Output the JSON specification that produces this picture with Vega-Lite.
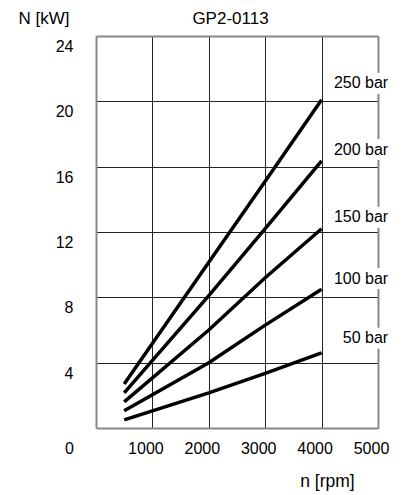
{
  "$schema": "https://vega.github.io/schema/vega-lite/v6.json",
  "width": 282,
  "height": 392,
  "autosize": {"type": "none"},
  "padding": {"left": 96, "top": 36, "right": 30, "bottom": 67},
  "background": "white",
  "config": {
    "font": "Liberation Sans",
    "view": {"stroke": null},
    "axis": {"titleFontSize": 17, "titleFontWeight": "normal", "titleColor": "#000", "titleFont": "Liberation Sans", "labelFontSize": 16, "labelColor": "#000", "labelFont": "Liberation Sans"}
  },
  "datasets": {
    "curves": [
      {"p": "250 bar", "n": 500, "N": 2.7},
      {"p": "250 bar", "n": 2000, "N": 10.15},
      {"p": "250 bar", "n": 3000, "N": 15.1},
      {"p": "250 bar", "n": 4000, "N": 20.1},
      {"p": "200 bar", "n": 500, "N": 2.15},
      {"p": "200 bar", "n": 2000, "N": 8.1},
      {"p": "200 bar", "n": 3000, "N": 12.2},
      {"p": "200 bar", "n": 4000, "N": 16.35},
      {"p": "150 bar", "n": 500, "N": 1.6},
      {"p": "150 bar", "n": 2000, "N": 6.0},
      {"p": "150 bar", "n": 3000, "N": 9.2},
      {"p": "150 bar", "n": 4000, "N": 12.2},
      {"p": "100 bar", "n": 500, "N": 1.05},
      {"p": "100 bar", "n": 2000, "N": 4.0},
      {"p": "100 bar", "n": 3000, "N": 6.3},
      {"p": "100 bar", "n": 4000, "N": 8.5},
      {"p": "50 bar", "n": 500, "N": 0.5},
      {"p": "50 bar", "n": 2000, "N": 2.15},
      {"p": "50 bar", "n": 3000, "N": 3.35},
      {"p": "50 bar", "n": 4000, "N": 4.6}
    ],
    "labels": [
      {"label": "250 bar", "ly": 21.1},
      {"label": "200 bar", "ly": 17.05},
      {"label": "150 bar", "ly": 12.9},
      {"label": "100 bar", "ly": 9.15},
      {"label": "50 bar", "ly": 5.5}
    ]
  },
  "layer": [
    {
      "data": {"name": "curves"},
      "mark": {"type": "line", "color": "#000", "strokeWidth": 3.5, "strokeCap": "butt"},
      "encoding": {
        "x": {
          "field": "n", "type": "quantitative",
          "scale": {"domain": [0, 5000], "nice": false, "zero": false},
          "axis": {
            "orient": "bottom",
            "values": [0, 1000, 2000, 3000, 4000, 5000],
            "format": "d",
            "domain": true, "domainColor": "#888", "domainWidth": 2,
            "ticks": false,
            "grid": true, "gridWidth": 1,
            "gridColor": {"condition": {"test": "datum.value == 0 || datum.value == 5000", "value": "transparent"}, "value": "#222"},
            "labelFontSize": 16,
            "labelPadding": 12, "labelFlush": false, "labelOverlap": false,
            "labelOffset": {"condition": {"test": "datum.value == 0", "value": -27}, "value": -7},
            "title": "n [rpm]", "titleFontSize": 17.5,
            "titleAlign": "center", "titleBaseline": "middle", "titleX": 231, "titleY": 53
          }
        },
        "y": {
          "field": "N", "type": "quantitative",
          "scale": {"domain": [0, 24], "nice": false},
          "axis": {
            "orient": "left",
            "values": [0, 4, 8, 12, 16, 20, 24],
            "domain": true, "domainColor": "#888", "domainWidth": 2,
            "ticks": false,
            "grid": true, "gridWidth": 1,
            "gridColor": {"condition": {"test": "datum.value == 0 || datum.value == 24", "value": "transparent"}, "value": "#222"},
            "labelExpr": "datum.value == 0 ? '' : datum.label",
            "labelFontSize": 16,
            "labelPadding": 23, "labelOffset": 10.5, "labelFlush": false, "labelOverlap": false,
            "labelBaseline": "middle",
            "title": null
          }
        },
        "detail": {"field": "p", "type": "nominal"}
      }
    },
    {
      "data": {"name": "labels"},
      "mark": {"type": "tick", "orient": "vertical", "color": "white", "thickness": 12, "size": 21, "opacity": 1},
      "encoding": {
        "x": {"datum": 5000, "type": "quantitative",
          "axis": {"orient": "top", "domain": true, "domainColor": "#888", "domainWidth": 2, "ticks": false, "labels": false, "grid": false,
            "title": "GP2-0113", "titleFontSize": 17, "titleAlign": "center", "titleBaseline": "middle", "titleX": 134, "titleY": -18}},
        "y": {"field": "ly", "type": "quantitative",
          "axis": {"orient": "right", "domain": true, "domainColor": "#888", "domainWidth": 2, "ticks": false, "labels": false, "grid": false,
            "title": "N [kW]", "titleFontSize": 17, "titleAngle": 0, "titleAlign": "left", "titleBaseline": "middle", "titleX": -360, "titleY": -18}}
      }
    },
    {
      "data": {"name": "labels"},
      "mark": {"type": "text", "align": "right", "baseline": "middle", "fontSize": 16, "color": "#000", "font": "Liberation Sans"},
      "encoding": {
        "x": {"datum": 5180, "type": "quantitative", "axis": null},
        "y": {"field": "ly", "type": "quantitative", "axis": null},
        "text": {"field": "label"}
      }
    }
  ],
  "resolve": {"axis": {"x": "independent", "y": "independent"}}
}
